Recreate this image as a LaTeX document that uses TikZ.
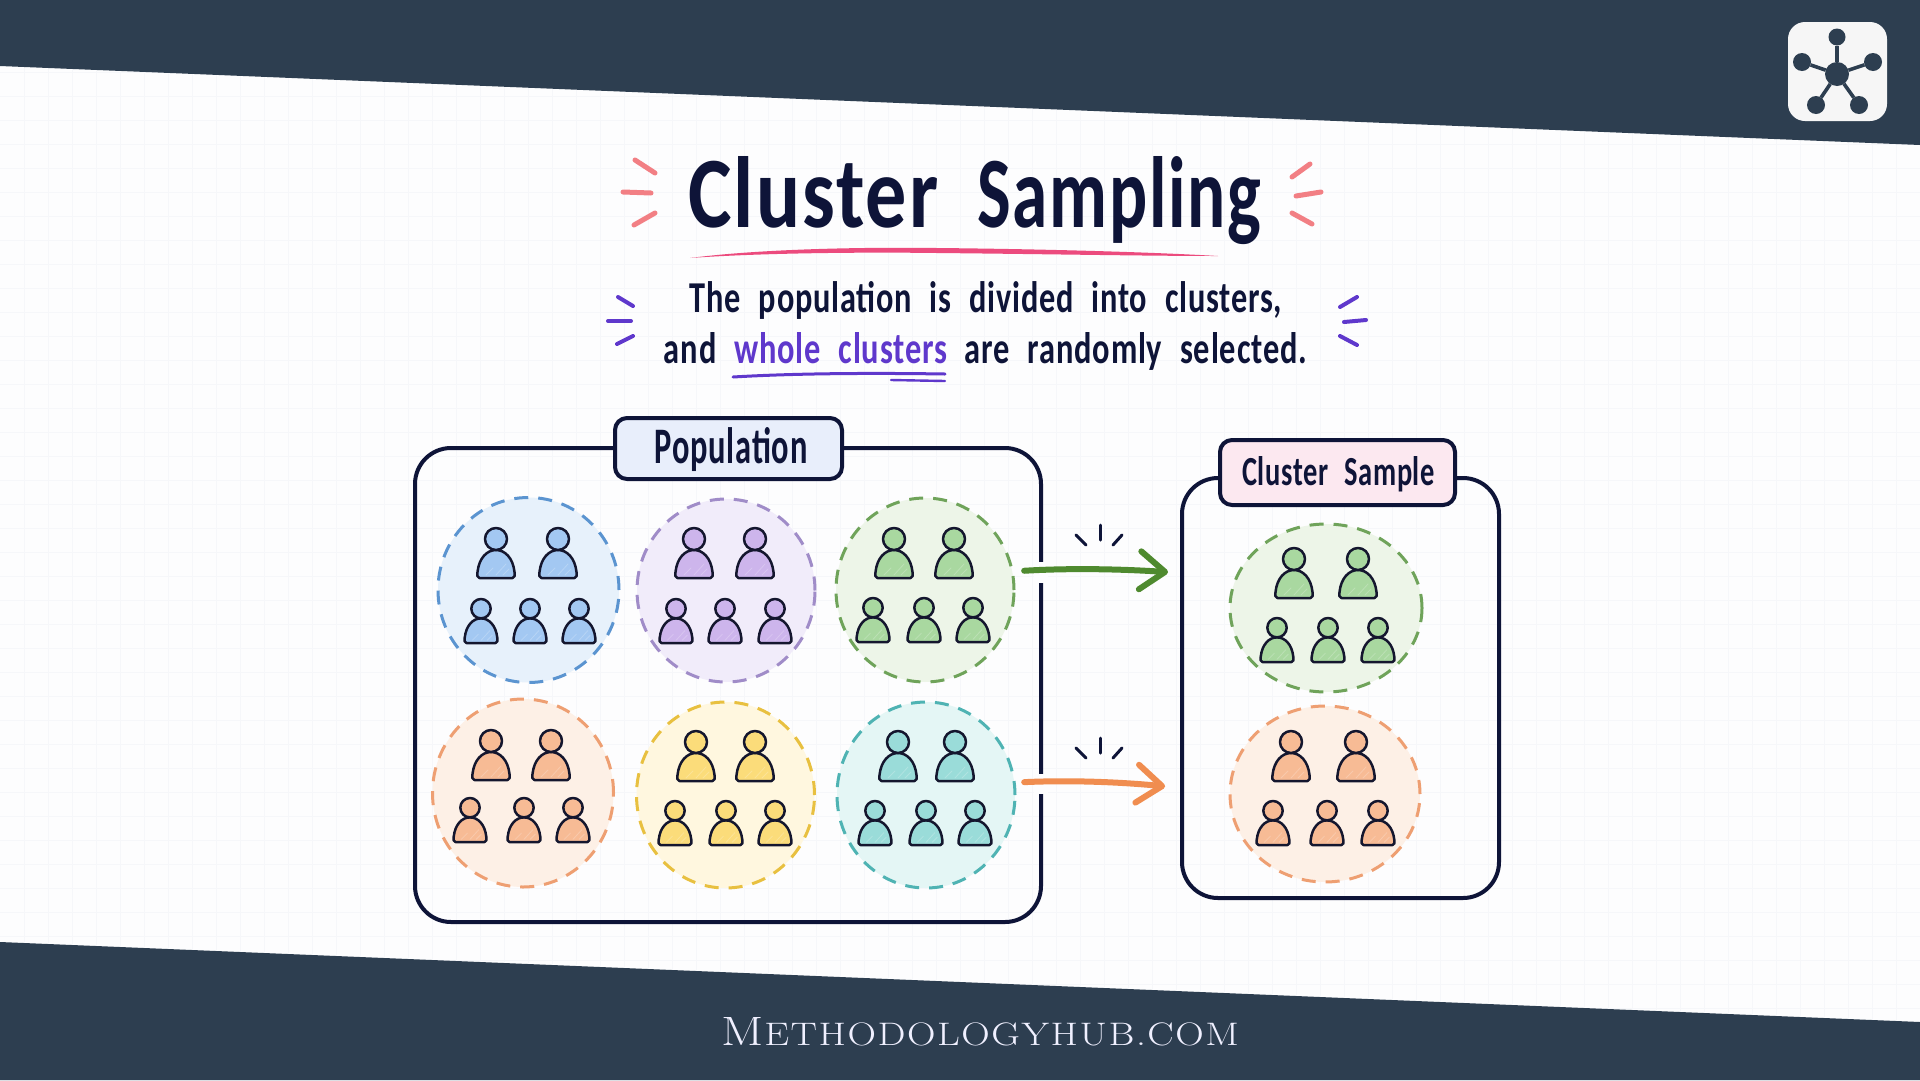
\documentclass[tikz,border=0pt]{standalone}
\usepackage{fontspec}
\usepackage{graphicx}
\usetikzlibrary{shapes.geometric,arrows.meta,calc}
\setmainfont{Carlito}
\newfontfamily\handfont[LetterSpace=2.5,WordSpace=2.2]{Carlito}
\newfontfamily\footfont[LetterSpace=4]{Latin Modern Roman}
\definecolor{band}{HTML}{2D3E50}
\definecolor{paper}{HTML}{FDFDFE}
\definecolor{gridc}{HTML}{F6F7FA}
\definecolor{ink}{HTML}{0E1438}
\definecolor{pline}{HTML}{14162E}
\definecolor{pinkline}{HTML}{EC4B7E}
\definecolor{coral}{HTML}{F27F84}
\definecolor{violet}{HTML}{5F38CC}
\definecolor{tagblue}{HTML}{E8EEFB}
\definecolor{tagpink}{HTML}{FCE8F0}
\definecolor{arrowgreen}{HTML}{4F8A2F}
\definecolor{arroworange}{HTML}{F08D50}
\definecolor{blueF}{HTML}{E7F1FB}\definecolor{blueD}{HTML}{5B94D0}\definecolor{blueP}{HTML}{A3C8F2}
\definecolor{purpF}{HTML}{F1ECFA}\definecolor{purpD}{HTML}{A08CC8}\definecolor{purpP}{HTML}{CDB5EC}
\definecolor{greeF}{HTML}{EDF5E8}\definecolor{greeD}{HTML}{6FA35A}\definecolor{greeP}{HTML}{A9D8A0}
\definecolor{oranF}{HTML}{FDF0E6}\definecolor{oranD}{HTML}{EE9F72}\definecolor{oranP}{HTML}{F7BB95}
\definecolor{yellF}{HTML}{FFF7DF}\definecolor{yellD}{HTML}{E8C040}\definecolor{yellP}{HTML}{FBDC7A}
\definecolor{tealF}{HTML}{E4F6F5}\definecolor{tealD}{HTML}{4FB3B3}\definecolor{tealP}{HTML}{9ADCD9}
\newcommand{\fitted}[3]{\resizebox{#1pt}{#2pt}{#3}}
% \personfig{x}{base y}{scale}{colour}
\newcommand{\personfig}[4]{%
  \begin{scope}[shift={(#1,#2)},scale=#3]
    \fill[#4] (-16.5,0) -- (16.5,0)
      .. controls (19,0) and (19,-3) .. (18.5,-6)
      .. controls (17,-20) and (9,-28) .. (0,-28)
      .. controls (-9,-28) and (-17,-20) .. (-18.5,-6)
      .. controls (-19,-3) and (-19,0) .. (-16.5,0) -- cycle;
    \draw[white,opacity=.22,line width=.8pt,line cap=round] (-10,-3) -- (-3,-10) (0,-3) -- (10,-14) (7,-3) -- (13,-9);
    \draw[personline] (-16.5,0) -- (16.5,0)
      .. controls (19,0) and (19,-3) .. (18.5,-6)
      .. controls (17,-20) and (9,-28) .. (0,-28)
      .. controls (-9,-28) and (-17,-20) .. (-18.5,-6)
      .. controls (-19,-3) and (-19,0) .. (-16.5,0) -- cycle;
    \draw[personline,fill=#4] (0,-39) circle (11);
  \end{scope}}
\newcommand{\group}[9]{% colour, x1,x2,ytop, x3,x4,x5,ybot, scale
  \personfig{#2}{#4}{1}{#1}\personfig{#3}{#4}{1}{#1}%
  \personfig{#5}{#8}{#9}{#1}\personfig{#6}{#8}{#9}{#1}\personfig{#7}{#8}{#9}{#1}}
\tikzset{
  personline/.style={draw=pline,line width=2.5pt,line join=round},
  clusterblob/.style={ellipse,inner sep=0pt,outer sep=0pt,dash pattern=on 14pt off 10pt,line width=3pt},
  spark/.style={line width=5pt,line cap=round},
  sparkthin/.style={line width=4pt,line cap=round,violet},
  tick/.style={line width=3pt,line cap=round,ink},
  frame/.style={rectangle,draw=ink,line width=4pt,rounded corners=36pt,inner sep=0pt,outer sep=0pt},
  tag/.style={rectangle,draw=ink,line width=4pt,rounded corners=12pt,inner sep=0pt,outer sep=0pt},
  hubdot/.style={circle,fill=band,inner sep=0pt,outer sep=0pt},
  flow/.style={line width=6pt,line cap=round,-{Straight Barb[length=25pt,width=38pt,round]}}
}
\begin{document}
\begin{tikzpicture}[x=1pt,y=-1pt]
\useasboundingbox (0,0) rectangle (1920,1080);
\fill[paper] (0,0) rectangle (1920,1080);
\draw[gridc,line width=.7pt] \foreach \g in {24,48,...,1920} {(\g,0) -- (\g,1080)};
\draw[gridc,line width=.7pt] \foreach \g in {24,48,...,1080} {(0,\g) -- (1920,\g)};
% bands
\fill[band] (0,0) -- (1920,0) -- (1920,145) -- (0,66) -- cycle;
\fill[band] (0,942) -- (1920,1022) -- (1920,1080) -- (0,1080) -- cycle;
% logo
\node[name=logo,rectangle,rounded corners=17pt,fill=black!3.5,minimum width=99pt,minimum height=99pt,inner sep=0pt] at (1837.5,71.5) {};
\node[name=hub,hubdot,minimum size=24pt] at (1837,74) {};
\node[name=s1,hubdot,minimum size=17pt] at (1837,37) {};
\node[name=s2,hubdot,minimum size=18pt] at (1802,62) {};
\node[name=s3,hubdot,minimum size=18pt] at (1873,62) {};
\node[name=s4,hubdot,minimum size=18pt] at (1816,105) {};
\node[name=s5,hubdot,minimum size=18pt] at (1859,105) {};
\foreach \s in {s1,s2,s3,s4,s5} \draw[band,line width=3.6pt] (hub) -- (\s);
% title
\node[name=title,anchor=base,inner sep=0pt,text=ink] at (975,227) {\fitted{250}{71}{\handfont\bfseries Cluster}\hspace{39pt}\fitted{284}{71}{\handfont\bfseries Sampling}};
\fill[pinkline] (690,258) .. controls (760,249) and (860,247) .. (937,248)
  .. controls (1040,249) and (1150,252) .. (1218,256)
  .. controls (1150,256) and (1040,254) .. (937,253) .. controls (860,252) and (760,253) .. (690,258) -- cycle;
\draw[spark,coral] (635,160) -- (655,173);
\draw[spark,coral] (623,192) -- (651,193);
\draw[spark,coral] (634,225) -- (655,213);
\draw[spark,coral] (1292,177) -- (1310,164);
\draw[spark,coral] (1296,196) -- (1321,192);
\draw[spark,coral] (1292,213) -- (1312,224);
% subtitle
\node[name=sub1,anchor=base,inner sep=0pt,text=ink] at (986,312) {\fitted{592}{31}{\handfont\bfseries The population is divided into clusters,}};
\node[name=sub2,anchor=base,inner sep=0pt,text=ink] at (985.5,363) {\fitted{643}{31}{\handfont\bfseries and \textcolor{violet}{whole clusters} are randomly selected.}};
\draw[violet,line width=3pt,line cap=round] (733,377) .. controls (800,373) and (880,373) .. (945,374);
\draw[violet,line width=2.4pt,line cap=round] (891,380) -- (945,381);
\draw[sparkthin] (618,297) -- (633,306);
\draw[sparkthin] (608,321) -- (631,321);
\draw[sparkthin] (617,344) -- (633,336);
\draw[sparkthin] (1340,307) -- (1357,297);
\draw[sparkthin] (1344,322) -- (1366,320);
\draw[sparkthin] (1340,336) -- (1357,345);
% frames
\node[name=boxP,frame,minimum width=626pt,minimum height=474pt] at (728,685) {};
\node[name=boxS,frame,minimum width=317pt,minimum height=420pt] at (1340.5,688) {};
\node[name=lblP,tag,fill=tagblue,minimum width=227pt,minimum height=61pt] at (728.5,448.5) {};
\node[name=lblS,tag,fill=tagpink,minimum width=235pt,minimum height=65pt] at (1337.5,472.5) {};
\node[name=txtP,anchor=base,inner sep=0pt,text=ink] at (731,463) {\fitted{153}{36}{\handfont\bfseries Population}};
\node[name=txtS,anchor=base,inner sep=0pt,text=ink] at (1338.5,485) {\fitted{193}{29}{\handfont\bfseries Cluster Sample}};
% clusters
\node[name=cBlue,clusterblob,fill=blueF,draw=blueD,minimum width=181pt,minimum height=185pt] at (528.5,590) {};
\node[name=cPurple,clusterblob,fill=purpF,draw=purpD,minimum width=178pt,minimum height=183pt] at (726,590.5) {};
\node[name=cGreen,clusterblob,fill=greeF,draw=greeD,minimum width=178pt,minimum height=184pt] at (925,590) {};
\node[name=cOrange,clusterblob,fill=oranF,draw=oranD,minimum width=181pt,minimum height=188pt] at (523,793) {};
\node[name=cYellow,clusterblob,fill=yellF,draw=yellD,minimum width=178pt,minimum height=186pt] at (725.5,795) {};
\node[name=cTeal,clusterblob,fill=tealF,draw=tealD,minimum width=178pt,minimum height=186pt] at (926,795) {};
\node[name=sGreen,clusterblob,fill=greeF,draw=greeD,minimum width=192pt,minimum height=168pt] at (1326,608) {};
\node[name=sOrange,clusterblob,fill=oranF,draw=oranD,minimum width=190pt,minimum height=176pt] at (1325,794) {};
% people
\group{blueP}{496}{558}{578}{481}{530}{579}{643}{.88}
\group{purpP}{694}{755}{578}{676}{725}{775}{643}{.88}
\group{greeP}{894}{954}{578}{873}{924}{973}{642}{.88}
\group{oranP}{491}{551}{780}{470}{524}{573}{842}{.88}
\group{yellP}{696}{755}{781}{675}{726}{775}{845}{.88}
\group{tealP}{898}{955}{781}{875}{926}{975}{845}{.88}
\group{greeP}{1294}{1358}{598}{1277}{1328}{1378}{662}{.88}
\group{oranP}{1291}{1356}{781}{1273}{1327}{1378}{845}{.88}
% arrows
\fill[paper] (1034,562) rectangle (1048,583);
\fill[paper] (1034,774) rectangle (1048,794);
\draw[flow,draw=arrowgreen,shorten <=12pt,shorten >=14pt] (cGreen.12) .. controls (1070,568) and (1120,569) .. (boxS.west |- 0,573);
\draw[flow,draw=arroworange,shorten <=10pt,shorten >=17pt] (cTeal.8) .. controls (1070,780) and (1120,782) .. (boxS.west |- 0,788);
% ticks
\draw[tick] (1076,535) -- (1086,545);
\draw[tick] (1100,525) -- (1100,540);
\draw[tick] (1113,545) -- (1122,535);
\draw[tick] (1076,748) -- (1086,758);
\draw[tick] (1100,738) -- (1100,753);
\draw[tick] (1113,758) -- (1122,748);
% footer
\node[name=foot,anchor=base,inner sep=0pt,text=white!94!blue] at (980.5,1045) {\fitted{517}{28}{\footfont{\fontsize{34}{34}\selectfont M}{\fontsize{27}{27}\selectfont ETHODOLOGYHUB.COM}}};
\end{tikzpicture}
\end{document}
